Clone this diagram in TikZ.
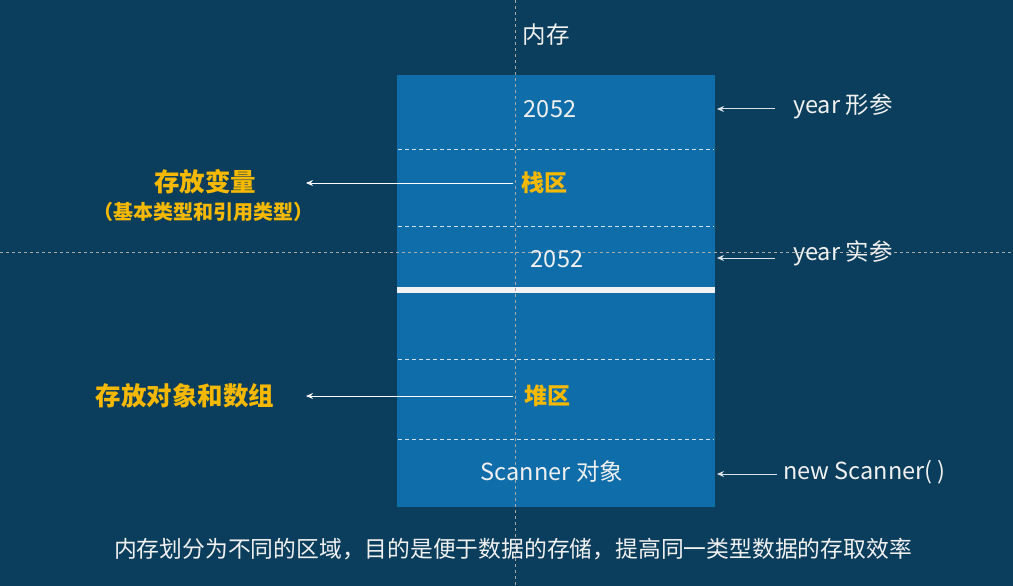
\documentclass[tikz,border=0pt]{standalone}
\usepackage{fontspec}
\setmainfont{Noto Sans CJK SC}
\usetikzlibrary{arrows.meta}
\definecolor{bg}{HTML}{0A3E5C}
\definecolor{boxblue}{HTML}{0F6EAA}
\definecolor{gold}{HTML}{F7B900}
\definecolor{txt}{HTML}{F0F0F0}
\definecolor{guide}{HTML}{A8A8A8}
\tikzset{
  lbl/.style={inner sep=0pt, text=txt, font=\fontsize{23.5}{27}\selectfont},
  notestyle/.style={inner sep=0pt, text=txt, font=\fontsize{22.8}{26}\selectfont},
  head/.style={inner sep=0pt, text=gold, font=\fontsize{25.5}{29}\selectfont\bfseries},
  sub/.style={inner sep=0pt, text=gold, font=\fontsize{20}{23}\selectfont\bfseries},
  zone/.style={inner sep=0pt, text=gold, font=\fontsize{23}{26}\selectfont\bfseries},
  sep/.style={draw=white!80!boxblue, line width=0.9pt, dash pattern=on 4pt off 3pt},
  guideline/.style={draw=guide, line width=0.8pt, dash pattern=on 3pt off 3pt},
  arrl/.style={draw=white, line width=1pt, -{Stealth[length=7pt,width=6pt]}},
  arrr/.style={draw=white!85!bg, line width=1pt, -{Stealth[length=7pt,width=6pt]}},
}
\begin{document}
\begin{tikzpicture}[x=1pt,y=-1pt]
\fill[bg] (0,0) rectangle (1013,586);
\useasboundingbox (0,0) rectangle (1013,586);
% memory box
\node[fill=boxblue, inner sep=0pt, minimum width=318pt, minimum height=432pt, anchor=north west] (mem) at (397,75) {};
\foreach \y in {149,226,359,439} \draw[sep] (398,\y) -- (714,\y);
\fill[white!95!black] (397,287) rectangle (715,293);
% guide lines
\draw[guideline] (515,0) -- (515,586);
\draw[guideline] (0,252) -- (1013,252);
% texts inside
\node[lbl] (title) at (546,35) {内存};
\node[lbl] (v1) at (550,109) {2052};
\node[zone] (zhan) at (544,183) {栈区};
\node[lbl] (v2) at (557,259) {2052};
\node[zone] (dui) at (547,396) {堆区};
\node[lbl] (scan) at (552,472) {Scanner 对象};
% right labels
\node[lbl, anchor=west] (xc) at (793,106) {year 形参};
\node[lbl, anchor=west] (sc) at (793,253) {year 实参};
\node[lbl, anchor=west] (ns) at (783,472) {new Scanner( )};
% left labels
\node[head] (var) at (205,182) {存放变量};
\node[sub] (varsub) at (203,212) {（基本类型和引用类型）};
\node[head] (obj) at (185,396) {存放对象和数组};
% bottom
\node[notestyle] (note) at (513,549) {内存划分为不同的区域，目的是便于数据的存储，提高同一类型数据的存取效率};
% arrow end points
\coordinate (xcS) at (775,109); \coordinate (xcT) at (717,109);
\coordinate (scS) at (775,258); \coordinate (scT) at (717,258);
\coordinate (nsS) at (777,474); \coordinate (nsT) at (717,474);
\coordinate (zhS) at (513,183); \coordinate (varT) at (306,183);
\coordinate (duS) at (513,396); \coordinate (objT) at (306,396);
\draw[arrr] (xcS) -- (xcT);
\draw[arrr] (scS) -- (scT);
\draw[arrr] (nsS) -- (nsT);
\draw[arrl] (zhS) -- (varT);
\draw[arrl] (duS) -- (objT);
\end{tikzpicture}
\end{document}
